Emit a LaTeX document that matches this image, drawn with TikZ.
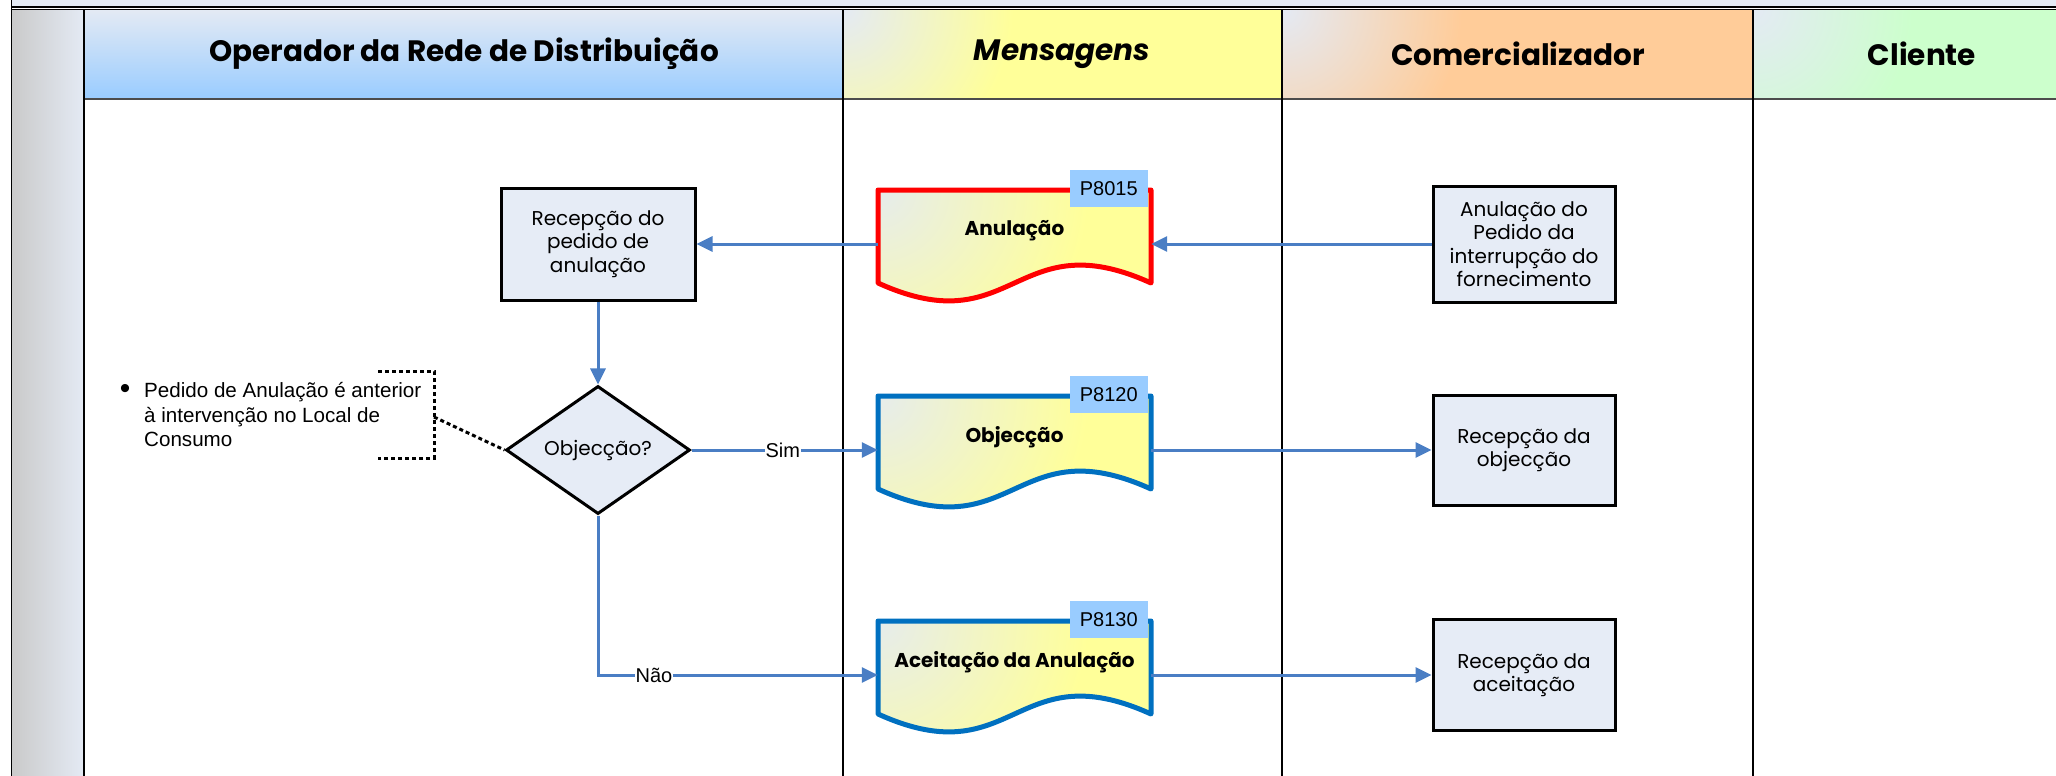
\documentclass[tikz,border=0pt]{standalone}
\usepackage{fontspec}
\setmainfont{Liberation Sans}
\newfontfamily\gothic{Poppins}
\usetikzlibrary{arrows.meta,shapes.geometric,calc}
\definecolor{hdrlight}{HTML}{E4EAF4}
\definecolor{laneblue}{HTML}{99CCFF}
\definecolor{laneyellow}{HTML}{FFFF99}
\definecolor{laneorange}{HTML}{FFCC99}
\definecolor{lanegreen}{HTML}{CCFFCC}
\definecolor{boxfill}{HTML}{E6ECF6}
\definecolor{arrowblue}{HTML}{4A7EC4}
\definecolor{docblue}{HTML}{0070C0}
\definecolor{docred}{HTML}{FF0000}
\definecolor{tagblue}{HTML}{99CCFF}
\definecolor{docstart}{HTML}{E6ECEC}
\definecolor{colgray}{HTML}{CACACA}
\newcommand\docmsg[6]{%
  \pgfmathsetmacro\dR{#2+273}%
  \pgfmathsetmacro\dM{#2+136.5}%
  \pgfmathsetmacro\dE{#3+93}%
  \pgfmathsetmacro\dU{#3+93-62}%
  \pgfmathsetmacro\dD{#3+93+62}%
  \begin{scope}
    \clip (#2,#3) -- (\dR,#3) -- (\dR,\dE) .. controls (\dM,\dU) and (\dM,\dD) .. (#2,\dE) -- cycle;
    \fill[laneyellow] (#2,#3) rectangle (\dR,#3+120);
    \shade[inner color=docstart, outer color=laneyellow] (#2,#3) circle (210pt);
  \end{scope}
  \draw[docframe, draw=#4] (#2,#3) -- (\dR,#3) -- (\dR,\dE) .. controls (\dM,\dU) and (\dM,\dD) .. (#2,\dE) -- cycle;
  \node[docanchor] (#1) at (\dM,#3+54) {};
  \node[doctitle] (#1-t) at (\dM,#3+41) {#5};
  \node[tagbox, anchor=north east] (#1-tag) at (\dR-3,#3-20) {#6};
}
\newcommand\hdrband[4]{% x1 x2 colour radius
  \begin{scope}
    \clip (#1,9.3) rectangle (#2,99);
    \fill[#3] (#1,9.3) rectangle (#2,99);
    \shade[inner color=hdrlight, outer color=#3] (#1,9.3) circle (#4pt);
  \end{scope}
}
\begin{document}
\begin{tikzpicture}[x=1pt,y=-1pt,
  lanehdr/.style={font=\gothic\bfseries\fontsize{29.5}{33}\selectfont},
  procbox/.style={draw=black, line width=3pt, fill=boxfill, align=center, inner sep=2pt, font=\gothic\fontsize{20}{23.5}\selectfont},
  decision/.style={diamond, draw=black, line width=3pt, fill=boxfill, inner sep=0pt, minimum width=184pt, minimum height=110pt, font=\gothic\fontsize{20}{23}\selectfont},
  docframe/.style={line width=5pt, line join=round},
  docanchor/.style={inner sep=0pt, minimum width=273pt, minimum height=109pt},
  doctitle/.style={font=\gothic\bfseries\fontsize{20}{24}\selectfont},
  tagbox/.style={fill=tagblue, minimum width=78pt, minimum height=37pt, inner sep=0pt, font=\fontsize{20}{24}\selectfont},
  flow/.style={draw=arrowblue, line width=3pt, -{Triangle[length=16pt,width=15pt]}},
  flowlbl/.style={fill=white, inner sep=1pt, font=\fontsize{20}{23}\selectfont},
  notebr/.style={draw=black, line width=3pt, dash pattern=on 4pt off 3pt},
  lanesep/.style={draw=black, line width=1.5pt}
]
\useasboundingbox (0,0) rectangle (2056,776);
% frame and backgrounds
\fill[hdrlight] (11.7,0) rectangle (2056,7);
\begin{scope}[y=1pt]
  \shade[left color=colgray, right color=hdrlight] (11.7,-9.3) rectangle (84,-776);
  \shade[top color=hdrlight, bottom color=laneblue] (84,-9.3) rectangle (843,-99);
\end{scope}
\hdrband{843}{1282}{laneyellow}{170}
\hdrband{1282}{1753}{laneorange}{180}
\hdrband{1753}{2056}{lanegreen}{160}
\draw[line width=1.5pt] (11.7,7) -- (2056,7);
\draw[line width=1.5pt] (11.7,9.3) -- (2056,9.3);
\draw[line width=1.5pt, draw=black!70] (84,99) -- (2056,99);
\draw[lanesep] (11.7,0) -- (11.7,776);
\draw[lanesep] (84,9.3) -- (84,776);
\draw[lanesep] (843,9.3) -- (843,776);
\draw[lanesep] (1282,9.3) -- (1282,776);
\draw[lanesep] (1753,9.3) -- (1753,776);
% headers
\node[lanehdr] (h1) at (464,54) {Operador da Rede de Distribuição};
\node[lanehdr] (h2) at (1062,54) {\itshape Mensagens};
\node[lanehdr] (h3) at (1518,54) {Comercializador};
\node[lanehdr] (h4) at (1922,54) {Cliente};
% process nodes
\node[procbox, minimum width=194pt, minimum height=112pt] (recped) at (598,244) {Recepção do\\pedido de\\anulação};
\node[procbox, minimum width=182pt, minimum height=116pt] (anulped) at (1524,244) {Anulação do\\Pedido da\\interrupção do\\fornecimento};
\node[procbox, minimum width=182pt, minimum height=110pt] (recobj) at (1524,450) {Recepção da\\objecção};
\node[procbox, minimum width=182pt, minimum height=111pt] (recacc) at (1524,675) {Recepção da\\aceitação};
\node[decision] (obj) at (598,450) {Objecção?};
% messages
\docmsg{anul}{878}{190}{docred}{Anulação}{P8015}
\docmsg{objm}{878}{396}{docblue}{Objecção}{P8120}
\docmsg{aceit}{878}{621}{docblue}{Aceitação da Anulação}{P8130}
% flows
\draw[flow] (anulped.west) -- (anulped.west -| anul.east);
\draw[flow] (anul.west) -- (anul.west -| recped.east);
\draw[flow] (recped.south) -- (obj.north);
\draw[flow] (obj.east) -- node[flowlbl, pos=0.49] {Sim} (obj.east -| objm.west);
\draw[flow] (objm.east) -- (objm.east -| recobj.west);
\draw[flow] (obj.south) |- node[flowlbl, pos=0.6] {Não} (aceit.west);
\draw[flow] (aceit.east) -- (aceit.east -| recacc.west);
% annotation
\node[anchor=center, inner sep=0pt, font=\fontsize{30}{30}\selectfont] (bul) at (125,391) {•};
\node[anchor=west, align=left, inner sep=0pt, font=\fontsize{20.6}{24.5}\selectfont] (note) at (144,415) {Pedido de Anulação é anterior\\à intervenção no Local de\\Consumo};
\coordinate (brtop) at (378,371);
\coordinate (brbot) at (378,458);
\coordinate (brmid) at (434,417);
\draw[notebr] (brtop) -- (brtop -| brmid) -- (brbot -| brmid) -- (brbot);
\draw[notebr] (brmid) -- (obj.west);
\end{tikzpicture}
\end{document}
